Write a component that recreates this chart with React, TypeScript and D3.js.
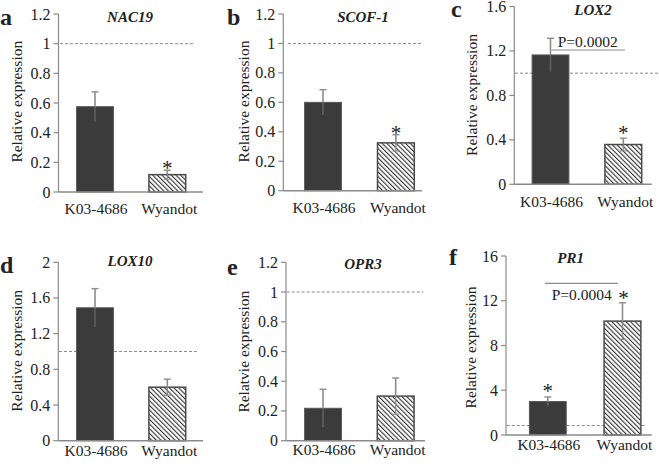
import React from "react";
import * as d3 from "d3";

const categories = ["K03-4686", "Wyandot"];

const genes = ["NAC19", "SCOF-1", "LOX2", "LOX10", "OPR3", "PR1"];
const panelLetters = ["a", "b", "c", "d", "e", "f"];
const yLabels = [
  "Relative expression",
  "Relative expression",
  "Relative expression",
  "Relative expression",
  "Relatvie expression",
  "Relative expression",
];

const meanNAC19 = [0.575, 0.117];
const errNAC19 = [0.1, 0.03];
const meanSCOF1 = [0.6, 0.325];
const errSCOF1 = [0.086, 0.055];
const meanLOX2 = [1.164, 0.358];
const errLOX2 = [0.15, 0.057];
const meanLOX10 = [1.49, 0.6];
const errLOX10 = [0.215, 0.09];
const meanOPR3 = [0.218, 0.3];
const errOPR3 = [0.128, 0.122];
const meanPR1 = [2.99, 10.18];
const errPR1 = [0.41, 1.64];

const ticks12 = [0, 0.2, 0.4, 0.6, 0.8, 1, 1.2];
const ticks16 = [0, 0.4, 0.8, 1.2, 1.6];
const ticks2 = [0, 0.4, 0.8, 1.2, 1.6, 2];
const ticksPR1 = [0, 4, 8, 12, 16];

const yMaxes = [1.2, 1.2, 1.6, 2, 1.2, 16];
const refLines = [1, 1, 1, 1, 1, 0.85];
const stars = [[false, true], [false, true], [false, true], [false, false], [false, false], [true, true]];
const pLabels = ["", "", "P=0.0002", "", "", "P=0.0004"];

const means = [meanNAC19, meanSCOF1, meanLOX2, meanLOX10, meanOPR3, meanPR1];
const errs = [errNAC19, errSCOF1, errLOX2, errLOX10, errOPR3, errPR1];
const tickSets = [ticks12, ticks12, ticks16, ticks2, ticks12, ticksPR1];

// layout (pixel geometry)
const layout = [
  { ax: 58.5, y0: 192, yTop: 14, axEnd: 203, band: [58.85, 203.45], refX: [60, 193], letter: [0, 25], title: [130, 21.5], yl: [17, 101.7], catDy: 22, pLine: null, pText: null, starDy: [0, 7] },
  { ax: 283.3, y0: 190.7, yTop: 14, axEnd: 422, band: [286.55, 432.35], refX: [288, 421.7], letter: [227, 25], title: [363, 21.5], yl: [244, 101.5], catDy: 22.5, pLine: null, pText: null, starDy: [0, 7] },
  { ax: 514.3, y0: 184.3, yTop: 6.5, axEnd: 651.7, band: [514.1, 659.7], refX: [515, 659], letter: [451, 17.3], title: [593, 15], yl: [472, 95], catDy: 22.4, pLine: [551.7, 625, 50], pText: [557.7, 46.7], starDy: [0, 10] },
  { ax: 58.3, y0: 440.7, yTop: 262.3, axEnd: 203, band: [58.85, 203.45], refX: [59, 196.7], letter: [0, 273.3], title: [130, 266], yl: [17, 350.8], catDy: 15.5, pLine: null, pText: null, starDy: [0, 7] },
  { ax: 286, y0: 440.7, yTop: 262.3, axEnd: 425, band: [286.7, 432], refX: [286.7, 423.3], letter: [227, 275], title: [363, 269], yl: [244, 351.7], catDy: 13.8, pLine: null, pText: null, starDy: [0, 7] },
  { ax: 506, y0: 435, yTop: 256, axEnd: 651.7, band: [510.5, 659.8], refX: [506.7, 645], letter: [449, 265], title: [570.7, 263], yl: [471, 347.5], catDy: 15, pLine: [545, 617.7, 283.3], pText: [551.7, 300], starDy: [10.5, 9.5] },
];

const FONT = "Liberation Serif";
const BAR_W = 36.8;

function fmt(v: number) {
  return String(+v.toFixed(2));
}

function Panel({ i }: { i: number }) {
  const L = layout[i];
  const y = d3.scaleLinear().domain([0, yMaxes[i]]).range([L.y0, L.yTop]);
  const x = d3.scaleBand<string>().domain(categories).range(L.band as [number, number]).padding(0);
  const ticks = tickSets[i];
  return (
    <g>
      <line x1={L.refX[0]} x2={L.refX[1]} y1={y(refLines[i])} y2={y(refLines[i])} stroke="#8a8a8a" strokeWidth={1} strokeDasharray="3,2" />
      {categories.map((c, j) => {
        const cx = (x(c) as number) + x.bandwidth() / 2;
        const v = means[i][j];
        const e = errs[i][j];
        const top = y(v);
        const lo = y(Math.max(0, v - e));
        const hi = y(v + e);
        return (
          <g key={c}>
            <rect
              x={cx - BAR_W / 2}
              y={top}
              width={BAR_W}
              height={L.y0 - top}
              fill={j === 0 ? "#3b3b3b" : "url(#hatch)"}
              stroke={j === 0 ? "#555" : "#4a4a4a"}
              strokeWidth={j === 0 ? 1 : 1.5}
            />
            <line x1={cx} x2={cx} y1={hi} y2={top} stroke="#8c8c8c" strokeWidth={1.6} />
            <line x1={cx} x2={cx} y1={top} y2={lo} stroke="#8c8c8c" strokeWidth={1.4} opacity={j === 0 ? 0.5 : 0.9} />
            <line x1={cx - 3.5} x2={cx + 3.5} y1={hi} y2={hi} stroke="#8c8c8c" strokeWidth={1.4} />
            {j === 1 && (
              <line x1={cx - 3.5} x2={cx + 3.5} y1={lo} y2={lo} stroke="#8c8c8c" strokeWidth={1.2} />
            )}
            {stars[i][j] && (
              <text className="tt" x={cx + (i === 5 && j === 1 ? 1 : 0)} y={hi - L.starDy[j] + 12} textAnchor="middle" fontSize={21}>
                *
              </text>
            )}
            <text className="tt" x={cx + (j === 1 ? 2 : 1)} y={L.y0 + L.catDy} textAnchor="middle" fontSize={15.5}>
              {c}
            </text>
          </g>
        );
      })}
      <line x1={L.ax} x2={L.ax} y1={L.yTop} y2={L.y0} stroke="#8a8a8a" strokeWidth={1.2} />
      <line x1={L.ax} x2={L.axEnd} y1={L.y0} y2={L.y0} stroke="#8a8a8a" strokeWidth={1.5} />
      {ticks.map((t) => (
        <g key={t}>
          <line x1={L.ax - 5} x2={L.ax} y1={y(t)} y2={y(t)} stroke="#8a8a8a" strokeWidth={1.2} />
          <text className="tt" x={L.ax - 8} y={y(t) + 5.5} textAnchor="end" fontSize={16}>
            {fmt(t)}
          </text>
        </g>
      ))}
      <text className="tt" transform={`translate(${L.yl[0] + 5},${L.yl[1]}) rotate(-90)`} textAnchor="middle" fontSize={15.5}>
        {yLabels[i]}
      </text>
      <text className="tt" x={L.title[0]} y={L.title[1]} textAnchor="middle" fontSize={15} fontWeight="bold" fontStyle="italic">
        {genes[i]}
      </text>
      <text className="tt" x={L.letter[0]} y={L.letter[1]} fontSize={24} fontWeight="bold">
        {panelLetters[i]}
      </text>
      {L.pLine && (
        <line x1={L.pLine[0]} x2={L.pLine[1]} y1={L.pLine[2]} y2={L.pLine[2]} stroke="#8a8a8a" strokeWidth={1.2} />
      )}
      {L.pText && (
        <text className="tt" x={L.pText[0]} y={L.pText[1]} fontSize={15.5}>
          {pLabels[i]}
        </text>
      )}
    </g>
  );
}

export default function App() {
  return (
    <svg width={659} height={467} style={{ position: "absolute", left: 0, top: 0 }}>
      <style>{`.tt { font-family: "${FONT}", "Times New Roman", serif !important; fill: #222; }`}</style>
      <defs>
        <pattern id="hatch" patternUnits="userSpaceOnUse" width={3.3} height={3.3} patternTransform="rotate(-45)">
          <rect width={3.3} height={3.3} fill="#fff" />
          <line x1={0} y1={0} x2={0} y2={3.3} stroke="#333" strokeWidth={2.2} />
        </pattern>
      </defs>
      <rect width={659} height={467} fill="#fff" />
      <g>
        {genes.map((g, i) => (
          <Panel key={g} i={i} />
        ))}
      </g>
    </svg>
  );
}
